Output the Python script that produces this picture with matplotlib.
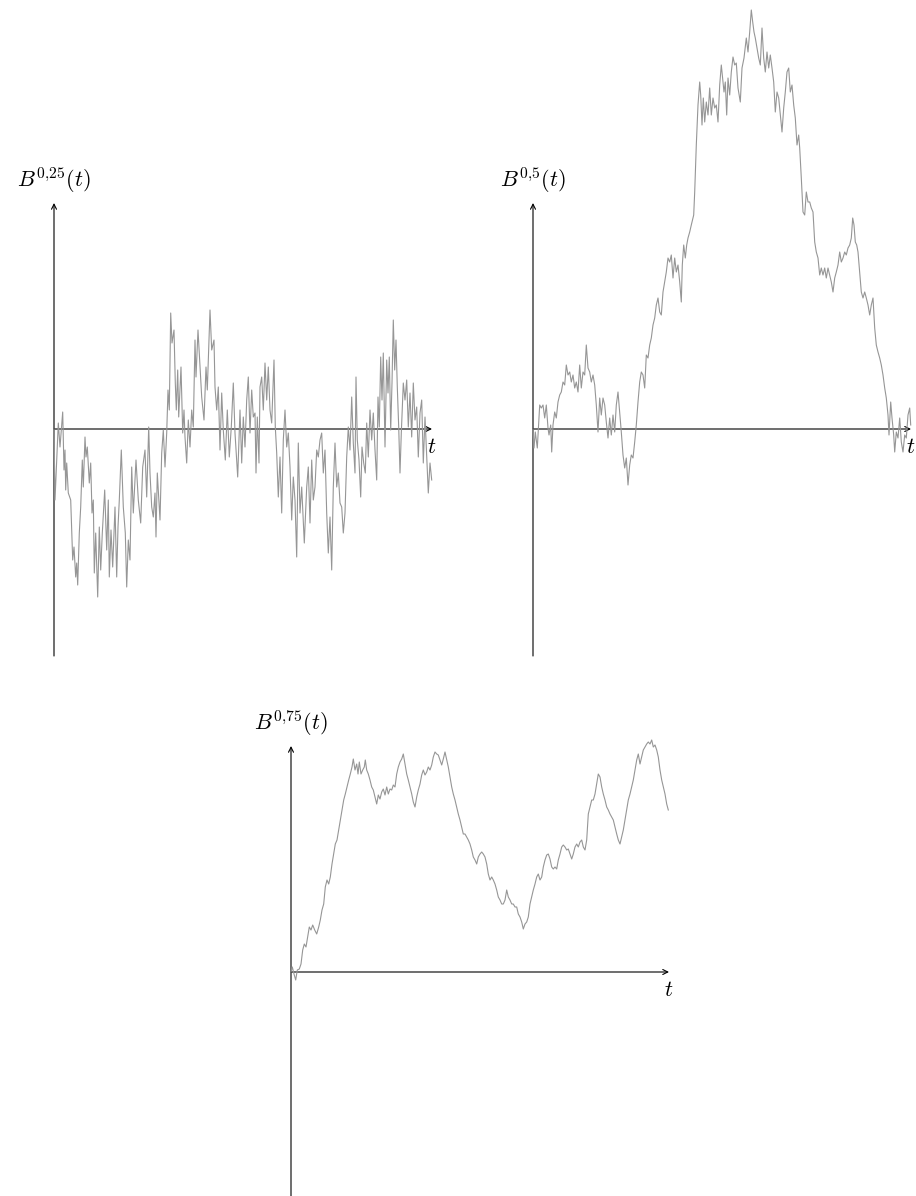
import matplotlib
matplotlib.use("Agg")
from matplotlib import pyplot as plt

plt.rcParams["mathtext.fontset"] = "cm"
plt.rcParams["font.family"] = ["DejaVu Serif"]

# ---------------------------------------------------------------
# data: sampled paths of fractional Brownian motion (read off picture)
# t in time steps, B in value units
# ---------------------------------------------------------------
t1 = [0, 1, 4.3, 6, 8.7, 10, 11, 11.7, 12.7, 14.3,
      16.7, 18.7, 20, 21.7, 22.7, 23.7, 25.3, 26.7, 28.3, 29.3,
      31, 32, 33.3, 35.3, 36.7, 38, 39.3, 40.3, 41.7, 43.7,
      45.3, 46.7, 48.3, 50.7, 52.7, 54.3, 55.3, 57, 58.7, 61,
      62.7, 64, 65.3, 67.3, 69.3, 71.3, 72.7, 74.3, 76, 77.7,
      79.3, 82, 84.3, 86.7, 88.7, 91, 92.7, 94.7, 96, 97.7,
      99.3, 101, 102, 103.3, 106, 107.7, 109.3, 111, 112.7, 114,
      115.3, 116.7, 118, 120, 121.3, 122.3, 123.7, 124.7, 127, 128.7,
      130, 131, 132.7, 134.3, 136, 137.7, 139.3, 141, 142, 144,
      146, 147.7, 150, 152, 153.3, 156, 157.7, 160, 161, 162.7,
      164.3, 166, 167.7, 169.3, 171.3, 173.3, 175.3, 177.3, 179.3, 181,
      183.7, 186, 187.7, 189.3, 191,
      192.7, 194.3, 196, 197.7, 199.3, 201, 202, 203.3, 205, 206,
      207.7, 209.3, 211, 212.7, 214.3, 216, 217.7, 220, 221.3, 222.7,
      224.3, 226, 227.7, 229.3, 231, 232.7, 234.3, 236, 237.7, 239.3,
      241, 242.7, 244.3, 246, 247.7, 250.3, 252.7, 254.3, 256, 257.7,
      259.3, 261, 262.7, 264.3, 266, 267.7, 269.3, 271, 272.7, 274.3,
      276, 277.7, 279.3, 281, 282.7, 284.3, 286, 287.7, 289.3, 291,
      292.7, 294.3, 296, 297.7, 299.3, 301, 302, 303.3, 305, 306.7,
      308, 309.7, 311.3, 312.7, 314.3, 316, 317.7, 319.3, 321, 322.7,
      324, 325.3, 326.7, 328, 329.3, 331, 332.7, 334, 335.3, 336.7,
      338, 339.3, 340.7, 342, 343.3, 344.7, 346, 347.3, 349.3, 351,
      352.7, 354.3, 356, 357.7, 359.3, 361, 362.7, 364.3, 366, 367.7,
      369.3, 371, 372.7, 374.3, 376, 377.7]
b1 = [0, -0.71, 0.06, -0.18, 0.17, -0.41, -0.21, -0.61, -0.34, -0.64,
      -0.71, -1.31, -1.18, -1.48, -1.34, -1.56, -1.04, -0.78, -0.31, -0.58,
      -0.08, -0.28, -0.18, -0.54, -0.34, -0.84, -0.71, -1.44, -1.04, -1.68,
      -0.98, -1.41, -1.04, -0.61, -1.21, -0.71, -1.48, -1.01, -1.38, -0.78,
      -1.48, -0.98, -0.71, -0.21, -0.78, -1.04, -1.58, -1.11, -1.31, -0.38,
      -0.84, -0.31, -0.71, -0.94, -0.38, -0.21, -0.68, 0.02, -0.44, -0.78,
      -0.88, -0.64, -1.08, -0.44, -0.91, -0.24, -0.01, -0.38, -0.04, 0.39,
      0.19, 1.16, 0.86, 0.99, 0.46, 0.19, 0.59, 0.12, 0.62, -0.04,
      0.19, -0.08, -0.34, 0.09, -0.18, 0.19, 0.02, 0.89, 0.52, 0.99,
      0.62, 0.32, 0.09, 0.62, 0.39, 1.19, 0.79, 0.89, 0.42, 0.19,
      0.42, -0.21, 0.36, -0.01, -0.31, 0.19, -0.28, 0.02, 0.46, -0.04,
      -0.48, 0.19, -0.34, 0.12, -0.18,
      0.29, 0.52, -0.04, 0.39, 0.12, 0.16, -0.44, 0.12, -0.34, 0.42,
      0.52, 0.19, 0.66, 0.29, 0.62, 0.19, 0.06, 0.69, 0.02, -0.24,
      -0.68, -0.28, -0.84, -0.11, 0.19, -0.18, -0.04, -0.38, -0.91, -0.48,
      -0.71, -1.28, -0.14, -0.84, -0.58, -1.14, -0.58, -0.38, -0.94, -0.31,
      -0.71, -0.58, -0.21, -0.28, -0.11, -0.04, -0.44, -0.21, -0.84, -1.24,
      -0.88, -1.41, -0.58, -0.14, -0.58, -0.44, -0.74, -0.78, -1.04, -0.84,
      -0.28, 0.02, -0.21, 0.32, -0.14, -0.44, 0.52, -0.11, -0.31, -0.68,
      -0.18, -0.34, -0.44, 0.06, -0.28, 0.19, -0.11, 0.16, -0.21, -0.51,
      0.32, 0.02, 0.72, 0.29, 0.76, -0.18, 0.69, 0.36, 0.72, -0.01,
      0.46, 1.09, 0.59, 0.89, 0.42, 0.02, -0.44, -0.04, 0.46, 0.29,
      0.49, 0.02, 0.36, -0.08, 0.46, 0.09, 0.22, -0.28, 0.16, 0.29,
      -0.34, 0.12, -0.28, -0.64, -0.34, -0.51]

t2 = [0, 1, 2.3, 4.3, 6.7, 8.3, 10, 11.7, 13.3, 15,
      16, 17.7, 18.7, 20, 21.7, 23.3, 25, 26.7, 28.3, 30,
      31.7, 33.3, 35, 36.7, 38.3, 40, 41.7, 43.3, 45, 46.7,
      48.3, 50, 51.7, 53.3, 55, 56.7, 58.3, 60, 61.7, 63.3,
      65, 66.7, 68.3, 70, 71.7, 73.3, 75, 76.7, 78.3, 80,
      81.7, 83.3, 85, 86.7, 88.3, 90, 91.7, 93.3, 95, 96.7,
      98.3, 100, 101.7, 103.3, 105, 106.7, 108.3, 110, 111.7, 113.3,
      115, 116.7, 118.3, 120, 121.7, 123.3, 125, 126.7, 128.3, 130,
      131.7, 133.3, 135, 136.7, 138.3, 140, 141.7, 143.3, 145, 146.7,
      148.3, 149.3, 150.7, 152.3, 153.7, 155, 156.7, 158.3, 160.7, 161.7,
      163.3, 165, 166.7, 167.7, 169, 170.3, 171.7, 173.3, 175, 176.7,
      178.3, 180, 181.7, 183.3, 185, 186.7, 188.3,
      191, 192.3, 193.7, 195, 196.7, 198.3, 200, 201.7, 203.3, 205,
      207.3, 209, 211, 213.3, 215, 216.7, 218.3, 219.7, 221, 222.3,
      224, 225.7, 227.3, 229, 230.7, 232.3, 234, 235.7, 237.3, 239,
      240.7, 242.3, 244, 245.7, 247.3, 249, 250.7, 252.3, 254, 255.7,
      257.3, 259, 260.7, 262.3, 264, 265.7, 266.7, 268.3, 270, 271.7,
      273.3, 275, 276.7, 278.3, 280, 281.7, 283.3, 285, 286.7, 288.3,
      290, 291.7, 293.3, 295, 296.7, 298.3, 300, 301.7, 303.3, 305,
      306.7, 308.3, 310, 311.7, 313.3, 315, 316.7, 318.3, 319.7, 321,
      322.3, 323.7, 325, 326.7, 328.3, 330, 331.7, 333.3, 335, 336.7,
      338.3, 340, 341.7, 343.3, 345, 346.7, 348.3, 350, 351.7, 353.3,
      355, 356, 357.7, 359, 360.7, 361.7, 363.3, 365, 366.7, 368.3,
      370, 371.7, 373.3, 375, 376.7, 377.7]
b2 = [0, -0.19, -0.03, -0.19, 0.24, 0.21, 0.24, 0.11, 0.24, 0.01,
      -0.06, 0.04, -0.23, 0.04, 0.17, 0.11, 0.27, 0.34, 0.37, 0.47,
      0.44, 0.64, 0.54, 0.57, 0.47, 0.54, 0.41, 0.47, 0.37, 0.64,
      0.41, 0.57, 0.54, 0.84, 0.61, 0.57, 0.47, 0.54, 0.44, 0.24,
      -0.03, 0.31, 0.14, 0.31, 0.24, 0.07, -0.09, 0.11, -0.06, 0.14,
      -0.03, 0.24, 0.37, 0.17, -0.03, -0.26, -0.39, -0.29, -0.56, -0.36,
      -0.26, -0.29, -0.13, 0.04, 0.27, 0.47, 0.57, 0.54, 0.41, 0.74,
      0.71, 0.84, 0.91, 1.04, 1.11, 1.24, 1.31, 1.17, 1.14, 1.37,
      1.47, 1.57, 1.71, 1.67, 1.74, 1.51, 1.71, 1.57, 1.64, 1.47,
      1.27, 1.64, 1.84, 1.71, 1.84, 1.91, 1.97, 2.04, 2.14, 2.37,
      2.84, 3.24, 3.47, 3.34, 3.04, 3.31, 3.07, 3.27, 3.14, 3.41,
      3.14, 3.31, 3.21, 3.24, 3.07, 3.44, 3.64,
      3.37, 3.47, 3.14, 3.51, 3.34, 3.57, 3.72, 3.64, 3.66, 3.41,
      3.27, 3.61, 3.71, 3.91, 3.77, 3.97, 4.19, 4.07, 3.97, 3.91,
      3.81, 3.71, 3.64, 4.01, 3.71, 3.57, 3.77, 3.61, 3.74, 3.61,
      3.47, 3.17, 3.37, 3.31, 3.14, 2.97, 3.21, 3.37, 3.57, 3.61,
      3.37, 3.44, 3.24, 3.11, 2.84, 2.94, 2.81, 2.51, 2.17, 2.14,
      2.37, 2.27, 2.27, 2.21, 2.17, 1.87, 1.77, 1.71, 1.54, 1.61,
      1.54, 1.61, 1.51, 1.61, 1.54, 1.47, 1.37, 1.51, 1.57, 1.64,
      1.77, 1.67, 1.71, 1.77, 1.74, 1.81, 1.84, 1.91, 2.11, 2.04,
      1.87, 1.84, 1.77, 1.57, 1.37, 1.31, 1.37, 1.31, 1.24, 1.14,
      1.24, 1.31, 1.01, 0.84, 0.77, 0.71, 0.64, 0.54, 0.41, 0.31,
      0.14, -0.06, 0.27, 0.11, -0.06, -0.23, -0.03, -0.09, 0.11, -0.13,
      -0.23, -0.06, -0.09, 0.14, 0.21, 0.04]

t3 = [0, 1.3, 3, 4.7, 6.3, 8.3, 10, 11.7, 13.3, 15,
      16.7, 18.3, 20, 21.7, 23.7, 25.7, 27.7, 29.3, 31, 32.7,
      34.3, 36, 37.7, 39.3, 41, 42.7, 44.3, 46, 47.7, 49.3,
      51, 52.7, 54.3, 56, 57.7, 59.3, 61, 62.3, 64, 65.7,
      67, 68.3, 70, 71.7, 73.3, 74.3, 75.7, 77.3, 79, 80.7,
      82.3, 84, 85.7, 87.3, 89, 90.7, 92.3, 94, 95.7, 97.3,
      99, 100.7, 102.3, 104, 105.7, 107.3, 109, 110.7, 112.3, 114,
      115.7, 117.3, 119, 120.7, 122.3, 124, 125.7, 127.3, 129, 130.7,
      132.3, 134, 135.7, 137.3, 139, 140.7, 142.3, 144, 145.7, 147.3,
      149, 150.7, 152.3, 154, 155.7, 157.3, 159, 160.7, 162.3, 164,
      165.7, 167.3, 169, 170.7, 172.3, 174, 175.7, 177.3,
      179, 180.7, 182.3, 184, 185.7, 187.3, 189, 190.7, 192.3, 194,
      195.7, 197.3, 199, 200.7, 202.3, 204, 205.7, 207.3, 209, 210.7,
      212.3, 214, 215.7, 217.3, 219, 220.7, 222.3, 224, 225.7, 227.3,
      229, 230.7, 232.3, 234, 235.7, 237.3, 239, 240.7, 242.3, 244,
      245.7, 247.3, 249, 250.7, 252.3, 254, 255.7, 257.3, 259, 260.7,
      262.3, 264, 265.7, 267.3, 269, 270.7, 272.3, 274, 275.7, 277.3,
      279, 280.7, 282.3, 284, 285.7, 287.3, 289, 290.7, 292.3, 294,
      295.7, 297.3, 299, 300.7, 302.3, 304, 305.7, 307.3, 309, 310.7,
      312.3, 314, 315.7, 317.3, 319, 320.7, 322.3, 324, 325.7, 327.3,
      329, 330.7, 332.3, 334, 335.7, 337.3, 339, 340.7, 342.3, 344,
      345.7, 347.3, 349, 350.7, 352.3, 354, 355.7, 357.3, 359, 360.7,
      362.3, 364, 365.7, 367.3, 369, 370.7, 372.3, 374, 375.7, 377.3]
b3 = [0, 0.05, -0.02, -0.08, 0.02, 0.03, 0.08, 0.22, 0.28, 0.25,
      0.35, 0.45, 0.42, 0.47, 0.42, 0.38, 0.45, 0.52, 0.62, 0.68,
      0.85, 0.92, 0.88, 0.95, 1.08, 1.18, 1.28, 1.32, 1.42, 1.52,
      1.62, 1.72, 1.78, 1.85, 1.92, 1.98, 2.05, 2.13, 2.02, 2.08,
      1.98, 2.10, 1.98, 2.02, 2.05, 2.12, 2.02, 1.98, 1.92, 1.85,
      1.82, 1.75, 1.68, 1.77, 1.73, 1.80, 1.83, 1.77, 1.85, 1.78,
      1.83, 1.82, 1.87, 1.85, 1.98, 2.05, 2.10, 2.13, 2.18, 2.08,
      1.98, 1.92, 1.85, 1.78, 1.70, 1.65, 1.75, 1.82, 1.88, 1.97,
      2.02, 1.97, 2.00, 2.05, 2.02, 2.07, 2.15, 2.20, 2.18, 2.17,
      2.12, 2.07, 2.13, 2.20, 2.12, 2.05, 1.95, 1.85, 1.78, 1.72,
      1.65, 1.58, 1.52, 1.45, 1.38, 1.38, 1.35, 1.32,
      1.28, 1.22, 1.15, 1.12, 1.08, 1.15, 1.18, 1.20, 1.18, 1.15,
      1.08, 0.98, 0.92, 0.95, 0.92, 0.88, 0.82, 0.75, 0.72, 0.68,
      0.68, 0.72, 0.82, 0.75, 0.72, 0.68, 0.68, 0.65, 0.65, 0.58,
      0.55, 0.50, 0.43, 0.48, 0.50, 0.55, 0.68, 0.75, 0.82, 0.88,
      0.95, 0.98, 0.92, 0.95, 1.05, 1.12, 1.17, 1.18, 1.13, 1.05,
      1.03, 1.05, 1.03, 1.12, 1.18, 1.25, 1.27, 1.25, 1.22, 1.23,
      1.18, 1.13, 1.18, 1.25, 1.28, 1.25, 1.30, 1.32, 1.25, 1.22,
      1.32, 1.58, 1.65, 1.72, 1.72, 1.78, 1.88, 1.98, 1.95, 1.85,
      1.78, 1.72, 1.65, 1.62, 1.58, 1.55, 1.52, 1.45, 1.38, 1.32,
      1.28, 1.35, 1.42, 1.52, 1.62, 1.72, 1.78, 1.85, 1.92, 2.02,
      2.12, 2.18, 2.08, 2.15, 2.22, 2.25, 2.28, 2.30, 2.28, 2.32,
      2.25, 2.27, 2.22, 2.15, 2.02, 1.92, 1.85, 1.78, 1.68, 1.62]

labels = [r"$B^{0{,}25}(t)$", r"$B^{0{,}5}(t)$", r"$B^{0{,}75}(t)$"]

# ---------------------------------------------------------------
# layout (figure pixels) and style
# ---------------------------------------------------------------
W, H, DPI = 916, 1196, 100
PX_PER_UNIT = 100          # vertical pixels per value unit, 1 px per time step
ORIGINS = [(54, 429), (533, 429), (291, 972)]
T_END = 378                # length of the time axis
Y_TOP, Y_BOT = 2.26, 2.27  # vertical axis extent
XL = (-30, 410)
YL = (-2.5, 4.5)

CURVE_COLOR = "#969696"
ARROW = dict(arrowstyle="->", lw=0.8, color="black",
             shrinkA=0, shrinkB=0, mutation_scale=9)


def draw_panel(fig, origin, t, b, label):
    ox, oy = origin
    ax = fig.add_axes([(ox + XL[0]) / W,
                       (H - oy + YL[0] * PX_PER_UNIT) / H,
                       (XL[1] - XL[0]) / W,
                       (YL[1] - YL[0]) * PX_PER_UNIT / H])
    ax.set_xlim(XL)
    ax.set_ylim(YL)
    ax.axis("off")

    # axes with arrows
    ax.annotate("", xy=(T_END, 0), xytext=(0, 0), arrowprops=ARROW)
    ax.annotate("", xy=(0, Y_TOP), xytext=(0, -Y_BOT), arrowprops=ARROW)

    ax.plot(t, b, color=CURVE_COLOR, lw=0.8, clip_on=False, zorder=3)

    ax.annotate(label, xy=(0, Y_TOP), xytext=(0, 6), textcoords="offset points",
                ha="center", va="bottom", fontsize=16)
    ax.annotate(r"$t$", xy=(T_END, 0), xytext=(0, -5), textcoords="offset points",
                ha="center", va="top", fontsize=16)


fig = plt.figure(figsize=(W / DPI, H / DPI), dpi=DPI)
fig.patch.set_facecolor("white")

for origin, t, b, label in zip(ORIGINS, [t1, t2, t3], [b1, b2, b3], labels):
    draw_panel(fig, origin, t, b, label)

fig.savefig("out.png", dpi=DPI, facecolor="white")
